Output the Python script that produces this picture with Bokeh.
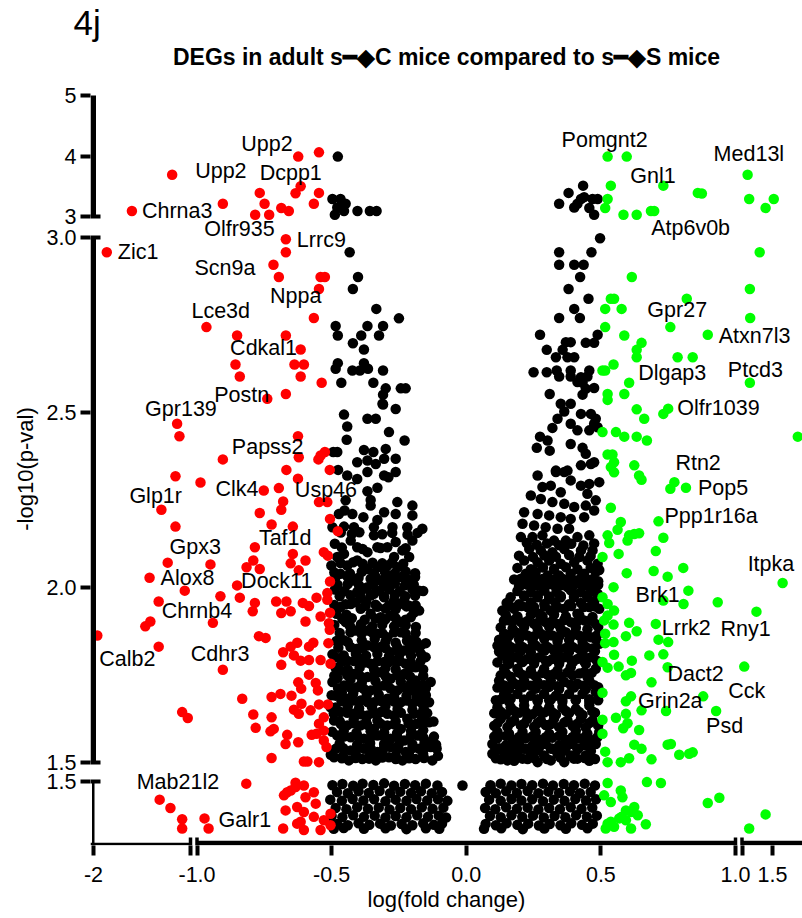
from bokeh.plotting import figure
from bokeh.models import Range1d, FixedTicker, Title
from bokeh.embed import file_html
from bokeh.resources import INLINE
from bokeh.core.properties import value

FONT = "Liberation Sans"

# ---------------- texts ----------------
panel_tag = "4j"
chart_title = "DEGs in adult s\u2501\u25c6C mice compared to s\u2501\u25c6S mice"
x_axis_title = "log(fold change)"
y_axis_title = "-log10(p-val)"

# ---------------- axis breaks / ticks (data units) ----------------
x_breaks = [(-2.0, -1.0), (-1.0, 1.0), (1.0, 2.0)]
y_breaks = [(1.3, 1.5), (1.5, 3.0), (3.0, 5.0)]
x_tick_values = [[-2.0, -1.0], [-1.0, -0.5, 0.0, 0.5, 1.0], [1.0, 1.5]]
x_tick_labels = [["-2", ""], ["-1.0", "-0.5", "0.0", "0.5", "1.0"], ["", "1.5"]]
y_tick_values = [[1.5], [1.5, 2.0, 2.5, 3.0], [3.0, 4.0, 5.0]]
y_tick_labels = [["1.5"], ["1.5", "2.0", "2.5", "3.0"], ["3", "4", "5"]]

# ---------------- data: (log fold change, -log10 p) ----------------
red_pts = [
    (-0.547, 4.06), (-0.624, 3.99), (-1.189, 3.69), (-0.615, 3.50), (-0.767, 3.39), (-0.634, 3.385),
    (-0.547, 3.39), (-0.904, 3.21), (-0.749, 3.21), (-0.566, 3.21), (-1.604, 3.09), (-0.687, 3.14),
    (-0.659, 3.09), (-0.784, 3.03), (-0.732, 3.03),
    (-1.863, 2.958), (-0.670, 2.995), (-0.670, 2.958), (-0.716, 2.922), (-0.696, 2.887), (-0.541, 2.887),
    (-0.525, 2.887), (-0.547, 2.853), (-0.566, 2.770), (-0.965, 2.744), (-0.851, 2.720), (-0.670, 2.720),
    (-0.615, 2.680), (-0.857, 2.637), (-0.638, 2.637), (-0.603, 2.637), (-0.841, 2.603), (-0.615, 2.603),
    (-0.537, 2.585), (-0.670, 2.553), (-0.739, 2.539),
    (-1.138, 2.468), (-1.114, 2.432), (-0.625, 2.432), (-0.904, 2.366), (-0.622, 2.372), (-0.541, 2.377),
    (-0.549, 2.366), (-0.525, 2.387), (-0.668, 2.336), (-0.507, 2.336), (-1.155, 2.318), (-0.987, 2.300),
    (-0.625, 2.311), (-0.752, 2.277), (-0.696, 2.284), (-0.547, 2.244), (-0.516, 2.244), (-0.680, 2.246),
    (-0.687, 2.222), (-1.300, 2.222), (-0.767, 2.213), (-0.506, 2.196), (-0.477, 2.161), (-0.723, 2.180),
    (-0.644, 2.174), (-1.155, 2.174), (-0.785, 2.115), (-0.529, 2.101), (-0.514, 2.091), (-0.644, 2.096),
    (-1.235, 2.071), (-0.950, 2.066), (-0.791, 2.077), (-0.816, 2.058), (-0.767, 2.053), (-0.652, 2.069),
    (-0.597, 2.077), (-0.622, 2.049), (-1.422, 2.028), (-1.059, 1.991), (-0.851, 2.006), (-0.841, 1.971),
    (-0.506, 2.017), (-0.913, 1.975), (-1.328, 1.960), (-0.785, 1.956), (-0.793, 1.932), (-0.706, 1.960),
    (-0.668, 1.960), (-0.687, 1.927), (-0.652, 1.932), (-0.607, 1.956), (-0.584, 1.947), (-0.556, 1.971),
    (-0.516, 1.984), (-0.516, 1.965), (-0.506, 1.928), (-0.541, 1.917), (-0.597, 1.903), (-0.510, 1.898),
    (-0.507, 1.879), (-0.941, 1.899), (-1.414, 1.903), (-1.466, 1.889), (-1.961, 1.863), (-1.328, 1.831),
    (-0.770, 1.861), (-0.745, 1.856), (-0.904, 1.765), (-0.680, 1.815), (-0.652, 1.831), (-0.628, 1.842),
    (-0.640, 1.806), (-0.584, 1.831), (-0.568, 1.842), (-0.512, 1.841), (-0.615, 1.791), (-0.584, 1.793),
    (-0.541, 1.793), (-0.504, 1.782), (-0.687, 1.779), (-0.584, 1.751), (-0.624, 1.729), (-0.613, 1.711),
    (-0.559, 1.727), (-0.551, 1.706), (-0.832, 1.682), (-0.723, 1.687), (-0.690, 1.696), (-0.649, 1.691),
    (-0.612, 1.668), (-0.547, 1.666), (-0.514, 1.666), (-0.640, 1.651), (-0.622, 1.639), (-0.578, 1.649),
    (-1.086, 1.644), (-1.028, 1.627), (-0.791, 1.637), (-0.723, 1.629), (-0.782, 1.599), (-0.727, 1.589),
    (-0.715, 1.596), (-0.529, 1.629), (-0.547, 1.611), (-0.529, 1.591), (-0.556, 1.582), (-0.665, 1.579),
    (-0.624, 1.558), (-0.574, 1.579), (-0.529, 1.563), (-0.519, 1.544), (-0.671, 1.553), (-0.723, 1.513),
    (-0.603, 1.503), (-0.590, 1.503), (-0.547, 1.501),
    (-0.817, 1.493), (-1.318, 1.441), (-1.207, 1.414), (-1.086, 1.377), (-1.086, 1.347), (-0.972, 1.380),
    (-0.957, 1.347), (-0.677, 1.455), (-0.665, 1.465), (-0.652, 1.471), (-0.634, 1.496), (-0.634, 1.482),
    (-0.671, 1.406), (-0.680, 1.347), (-0.628, 1.417), (-0.628, 1.363), (-0.603, 1.487), (-0.566, 1.465),
    (-0.597, 1.449), (-0.559, 1.428), (-0.603, 1.401), (-0.566, 1.385), (-0.615, 1.369), (-0.603, 1.342),
    (-0.529, 1.374), (-0.504, 1.358), (-0.541, 1.342), (-0.504, 1.395),
]

green_pts = [
    (0.525, 3.99), (0.596, 3.99), (1.092, 3.69), (0.537, 3.51), (0.732, 3.51), (0.860, 3.39), (0.875, 3.38),
    (1.118, 3.29), (1.521, 3.29), (1.387, 3.14), (0.525, 3.29), (0.516, 3.14), (0.584, 3.03), (0.633, 3.03),
    (0.686, 3.09), (0.698, 3.09),
    (1.290, 2.958), (0.615, 2.887), (1.129, 2.853), (0.537, 2.825), (0.549, 2.825), (0.819, 2.825),
    (0.516, 2.796), (0.577, 2.796), (1.134, 2.770), (0.516, 2.744), (0.758, 2.744), (0.587, 2.720),
    (0.897, 2.722), (0.651, 2.699), (0.633, 2.679), (0.633, 2.658), (0.785, 2.658), (0.841, 2.658),
    (0.506, 2.620), (0.516, 2.620), (0.547, 2.637), (0.605, 2.585), (1.129, 2.585), (0.525, 2.553),
    (0.525, 2.536), (0.587, 2.553), (0.633, 2.509), (0.661, 2.482), (0.732, 2.496), (0.750, 2.511),
    (0.506, 2.444), (0.556, 2.444), (0.587, 2.431), (0.633, 2.431), (0.671, 2.420), (1.915, 2.431),
    (0.525, 2.380), (0.543, 2.380), (0.549, 2.358), (0.624, 2.349), (0.537, 2.344), (0.549, 2.329),
    (0.642, 2.320), (0.651, 2.308), (0.773, 2.301), (0.758, 2.282), (0.816, 2.285), (0.537, 2.228),
    (0.574, 2.187), (0.562, 2.165), (0.714, 2.189), (0.525, 2.149), (0.531, 2.127), (0.605, 2.149),
    (0.624, 2.153), (0.642, 2.155), (0.599, 2.134), (0.732, 2.142), (0.506, 2.087), (0.566, 2.096),
    (0.704, 2.104), (0.596, 2.041), (0.696, 2.047), (0.748, 2.031), (0.806, 2.056), (1.666, 2.013),
    (0.547, 2.001), (0.506, 1.972), (0.525, 1.953), (0.549, 1.934), (0.525, 1.920), (0.512, 1.906),
    (0.825, 1.991), (0.807, 1.953), (0.732, 1.963), (0.934, 1.958), (1.237, 1.931), (0.547, 1.894),
    (0.605, 1.899), (0.633, 1.875), (0.593, 1.861), (0.516, 1.868), (0.704, 1.896), (0.714, 1.851),
    (0.750, 1.844), (0.516, 1.841), (0.547, 1.844), (0.549, 1.808), (0.506, 1.787), (0.525, 1.771),
    (0.566, 1.774), (0.615, 1.791), (0.680, 1.806), (0.732, 1.809), (0.748, 1.772), (0.612, 1.756),
    (0.593, 1.749), (1.037, 1.774), (0.688, 1.729), (0.506, 1.699), (0.593, 1.675), (0.612, 1.689),
    (0.880, 1.689), (0.651, 1.649), (0.742, 1.647), (0.928, 1.647), (0.506, 1.622), (0.556, 1.628),
    (0.593, 1.639), (0.599, 1.612), (0.583, 1.598), (0.506, 1.582), (0.642, 1.593), (0.624, 1.551),
    (0.651, 1.539), (0.748, 1.551), (0.760, 1.553), (0.791, 1.522), (0.828, 1.525), (0.841, 1.529),
    (0.516, 1.531), (0.525, 1.501), (0.574, 1.501), (0.605, 1.512), (0.688, 1.509),
    (0.525, 1.495), (0.671, 1.498), (0.723, 1.495), (0.574, 1.471), (0.580, 1.449), (0.537, 1.433),
    (0.512, 1.455), (0.624, 1.417), (0.612, 1.401), (0.637, 1.390), (0.593, 1.406), (0.568, 1.380),
    (0.537, 1.369), (0.518, 1.347), (0.612, 1.347), (0.667, 1.361), (0.593, 1.374), (0.897, 1.430),
    (0.940, 1.447), (1.387, 1.393), (1.118, 1.347), (0.549, 1.353), (0.525, 1.363), (0.577, 1.385),
]

black_top = [
    (-0.477, 3.99), (-0.497, 3.29), (-0.467, 3.29), (-0.448, 3.21), (-0.479, 3.15), (-0.488, 3.03),
    (-0.454, 3.09), (-0.404, 3.09), (-0.358, 3.09), (-0.333, 3.09),
    (0.434, 3.51), (0.380, 3.39), (0.345, 3.21), (0.401, 3.15), (0.426, 3.29), (0.438, 3.32),
    (0.469, 3.29), (0.488, 3.29), (0.457, 3.14), (0.475, 3.03), (0.413, 3.21),
]

black_left_upper = [
    (-0.433, 2.958), (-0.402, 2.887), (-0.421, 2.853), (-0.334, 2.796), (-0.250, 2.769), (-0.485, 2.747),
    (-0.367, 2.747), (-0.309, 2.747), (-0.477, 2.720), (-0.390, 2.720), (-0.324, 2.720), (-0.421, 2.698),
    (-0.380, 2.680), (-0.477, 2.641), (-0.485, 2.625), (-0.423, 2.620), (-0.395, 2.620), (-0.380, 2.641),
    (-0.365, 2.625), (-0.309, 2.620), (-0.464, 2.585), (-0.345, 2.585), (-0.299, 2.569), (-0.243, 2.569),
    (-0.225, 2.569), (-0.309, 2.551), (-0.311, 2.525), (-0.262, 2.510),
    (-0.454, 2.494), (-0.442, 2.460), (-0.444, 2.422), (-0.367, 2.482), (-0.336, 2.482), (-0.309, 2.523),
    (-0.287, 2.444), (-0.229, 2.420), (-0.380, 2.393), (-0.345, 2.387), (-0.494, 2.387), (-0.479, 2.387),
    (-0.299, 2.396), (-0.405, 2.358), (-0.367, 2.363), (-0.305, 2.368), (-0.262, 2.368), (-0.476, 2.336),
    (-0.442, 2.320), (-0.367, 2.330), (-0.336, 2.353), (-0.405, 2.310), (-0.305, 2.320), (-0.262, 2.330),
    (-0.289, 2.315), (-0.330, 2.285), (-0.367, 2.275), (-0.355, 2.250), (-0.448, 2.249), (-0.355, 2.234),
    (-0.256, 2.244), (-0.200, 2.234),
]

black_left_dense = [
    (-0.452, 2.220), (-0.473, 2.210), (-0.423, 2.210), (-0.382, 2.201), (-0.305, 2.215), (-0.330, 2.193),
    (-0.262, 2.210), (-0.200, 2.206), (-0.497, 2.172), (-0.454, 2.174), (-0.417, 2.172), (-0.343, 2.172),
    (-0.274, 2.172), (-0.219, 2.172), (-0.163, 2.168), (-0.488, 2.125), (-0.429, 2.134), (-0.343, 2.149),
    (-0.405, 2.115), (-0.367, 2.101), (-0.330, 2.115), (-0.293, 2.115), (-0.268, 2.087), (-0.237, 2.106),
    (-0.200, 2.134), (-0.479, 2.087), (-0.454, 2.096), (-0.501, 2.063), (-0.442, 2.063), (-0.405, 2.077),
    (-0.367, 2.053), (-0.330, 2.058), (-0.293, 2.063), (-0.256, 2.058), (-0.212, 2.087), (-0.467, 2.039),
    (-0.417, 2.020), (-0.355, 2.025), (-0.318, 2.020), (-0.281, 2.020), (-0.243, 2.030), (-0.206, 2.020),
    (-0.175, 1.991), (-0.405, 1.987), (-0.367, 2.001), (-0.343, 1.982), (-0.305, 1.972), (-0.268, 1.963),
    (-0.231, 1.963), (-0.188, 1.949), (-0.175, 1.934), (-0.467, 1.944), (-0.429, 1.953), (-0.392, 1.939),
    (-0.355, 1.925), (-0.318, 1.915), (-0.281, 1.920), (-0.243, 1.901), (-0.206, 1.915), (-0.448, 1.901),
    (-0.411, 1.877), (-0.367, 1.877), (-0.330, 1.868), (-0.293, 1.858), (-0.243, 1.872), (-0.206, 1.849),
    (-0.169, 1.834), (-0.454, 1.849), (-0.405, 1.825), (-0.367, 1.834), (-0.318, 1.830), (-0.281, 1.815),
    (-0.231, 1.820), (-0.151, 1.801), (-0.485, 1.801), (-0.442, 1.791), (-0.392, 1.796), (-0.355, 1.782),
    (-0.305, 1.787), (-0.268, 1.791), (-0.225, 1.782), (-0.188, 1.772), (-0.467, 1.763), (-0.417, 1.753),
    (-0.367, 1.744), (-0.318, 1.758), (-0.281, 1.739), (-0.231, 1.753), (-0.188, 1.734), (-0.132, 1.730),
    (-0.497, 1.730), (-0.454, 1.720), (-0.405, 1.715), (-0.355, 1.706), (-0.305, 1.720), (-0.256, 1.706),
    (-0.206, 1.706), (-0.169, 1.696), (-0.485, 1.691), (-0.442, 1.682), (-0.392, 1.677), (-0.343, 1.672),
    (-0.293, 1.682), (-0.243, 1.672), (-0.200, 1.668), (-0.138, 1.672), (-0.504, 1.658), (-0.467, 1.644),
    (-0.417, 1.639), (-0.367, 1.634), (-0.318, 1.644), (-0.268, 1.634), (-0.219, 1.625), (-0.169, 1.639),
    (-0.491, 1.620), (-0.442, 1.606), (-0.392, 1.606), (-0.343, 1.596), (-0.293, 1.606), (-0.243, 1.596),
    (-0.188, 1.610), (-0.138, 1.615), (-0.479, 1.577), (-0.429, 1.572), (-0.380, 1.568), (-0.330, 1.577),
    (-0.281, 1.568), (-0.231, 1.563), (-0.181, 1.577), (-0.138, 1.558), (-0.485, 1.539), (-0.429, 1.534),
    (-0.380, 1.539), (-0.330, 1.530), (-0.281, 1.544), (-0.225, 1.530), (-0.175, 1.539), (-0.132, 1.544),
    (-0.491, 1.515), (-0.436, 1.506), (-0.386, 1.510), (-0.336, 1.506), (-0.287, 1.515), (-0.237, 1.506),
    (-0.188, 1.510), (-0.126, 1.506),
    (-0.466, 2.157), (-0.425, 2.153), (-0.397, 2.158), (-0.312, 2.152), (-0.275, 2.156), (-0.218, 2.151),
    (-0.181, 2.156), (-0.462, 2.114), (-0.385, 2.110), (-0.318, 2.113), (-0.262, 2.130), (-0.225, 2.112),
    (-0.490, 2.043), (-0.432, 2.040), (-0.388, 2.045), (-0.343, 2.041), (-0.302, 2.044), (-0.268, 2.039),
    (-0.225, 2.046), (-0.190, 2.041), (-0.488, 1.994), (-0.452, 1.990), (-0.380, 1.996), (-0.322, 1.991),
    (-0.287, 1.995), (-0.247, 1.989), (-0.200, 1.995), (-0.160, 1.990), (-0.482, 1.925), (-0.445, 1.922),
    (-0.410, 1.958), (-0.372, 1.960), (-0.330, 1.945), (-0.300, 1.940), (-0.262, 1.938), (-0.222, 1.946),
    (-0.195, 1.928), (-0.490, 1.893), (-0.432, 1.890), (-0.391, 1.895), (-0.349, 1.889), (-0.312, 1.894),
    (-0.268, 1.889), (-0.225, 1.892), (-0.187, 1.887), (-0.482, 1.847), (-0.440, 1.844), (-0.388, 1.849),
    (-0.340, 1.853), (-0.300, 1.846), (-0.262, 1.842), (-0.220, 1.848), (-0.185, 1.845), (-0.150, 1.841),
    (-0.497, 1.809), (-0.455, 1.806), (-0.410, 1.811), (-0.372, 1.805), (-0.330, 1.810), (-0.287, 1.804),
    (-0.248, 1.809), (-0.205, 1.805), (-0.168, 1.810), (-0.485, 1.770), (-0.440, 1.766), (-0.396, 1.771),
    (-0.342, 1.765), (-0.300, 1.770), (-0.262, 1.766), (-0.210, 1.771), (-0.160, 1.766), (-0.478, 1.741),
    (-0.430, 1.737), (-0.388, 1.728), (-0.337, 1.732), (-0.296, 1.726), (-0.243, 1.731), (-0.205, 1.727),
    (-0.160, 1.722), (-0.500, 1.692), (-0.462, 1.700), (-0.420, 1.697), (-0.370, 1.690), (-0.325, 1.694),
    (-0.268, 1.689), (-0.222, 1.690), (-0.185, 1.685), (-0.150, 1.692), (-0.485, 1.657), (-0.440, 1.660),
    (-0.398, 1.655), (-0.350, 1.658), (-0.300, 1.662), (-0.255, 1.653), (-0.200, 1.650), (-0.158, 1.655),
    (-0.470, 1.618), (-0.418, 1.622), (-0.372, 1.616), (-0.330, 1.620), (-0.262, 1.617), (-0.212, 1.612),
    (-0.165, 1.621), (-0.122, 1.617), (-0.498, 1.588), (-0.455, 1.590), (-0.408, 1.585), (-0.355, 1.589),
    (-0.305, 1.586), (-0.257, 1.584), (-0.205, 1.590), (-0.160, 1.592), (-0.470, 1.554), (-0.405, 1.551),
    (-0.357, 1.555), (-0.305, 1.553), (-0.252, 1.549), (-0.200, 1.552), (-0.155, 1.556), (-0.112, 1.551),
    (-0.503, 1.522), (-0.458, 1.519), (-0.410, 1.523), (-0.360, 1.518), (-0.312, 1.526), (-0.262, 1.520),
    (-0.212, 1.521), (-0.160, 1.524), (-0.105, 1.519),
    (-0.462, 1.512), (-0.411, 1.513), (-0.361, 1.511), (-0.312, 1.514), (-0.262, 1.510), (-0.212, 1.512),
    (-0.157, 1.513), (-0.457, 1.541), (-0.404, 1.543), (-0.355, 1.540), (-0.305, 1.542), (-0.253, 1.539),
    (-0.200, 1.541), (-0.153, 1.543), (-0.110, 1.540), (-0.454, 1.574), (-0.404, 1.576), (-0.355, 1.572),
    (-0.306, 1.575), (-0.256, 1.573), (-0.206, 1.576), (-0.159, 1.571), (-0.120, 1.574), (-0.466, 1.610),
    (-0.417, 1.612), (-0.368, 1.608), (-0.318, 1.611), (-0.268, 1.609), (-0.214, 1.611), (-0.163, 1.608),
    (-0.492, 1.640), (-0.442, 1.642), (-0.392, 1.638), (-0.343, 1.641), (-0.293, 1.639), (-0.243, 1.642),
    (-0.194, 1.639), (-0.145, 1.641), (-0.463, 1.675), (-0.417, 1.677), (-0.367, 1.673), (-0.318, 1.676),
    (-0.268, 1.674), (-0.222, 1.677), (-0.170, 1.673), (-0.476, 1.712), (-0.430, 1.714), (-0.380, 1.710),
    (-0.330, 1.713), (-0.281, 1.711), (-0.231, 1.714), (-0.188, 1.710), (-0.150, 1.712), (-0.490, 1.748),
    (-0.442, 1.750), (-0.392, 1.746), (-0.342, 1.749), (-0.300, 1.747), (-0.256, 1.750), (-0.209, 1.746),
    (-0.160, 1.748), (-0.463, 1.788), (-0.417, 1.790), (-0.374, 1.786), (-0.330, 1.789), (-0.287, 1.787),
    (-0.246, 1.790), (-0.206, 1.786), (-0.170, 1.789), (-0.475, 1.828), (-0.430, 1.830), (-0.386, 1.826),
    (-0.342, 1.829), (-0.300, 1.827), (-0.256, 1.830), (-0.212, 1.826), (-0.186, 1.828), (-0.470, 1.870),
    (-0.430, 1.872), (-0.389, 1.868), (-0.349, 1.871), (-0.311, 1.869), (-0.268, 1.872), (-0.225, 1.868),
    (-0.188, 1.870), (-0.460, 1.910), (-0.425, 1.912), (-0.377, 1.908), (-0.337, 1.911), (-0.300, 1.909),
    (-0.262, 1.912), (-0.225, 1.908), (-0.490, 1.950), (-0.448, 1.952), (-0.374, 1.948), (-0.337, 1.951),
    (-0.287, 1.949), (-0.250, 1.952), (-0.212, 1.948), (-0.470, 1.975), (-0.430, 1.978), (-0.392, 1.973),
    (-0.355, 1.977), (-0.305, 1.974), (-0.265, 1.979), (-0.226, 1.975), (-0.190, 1.977), (-0.485, 2.030),
    (-0.442, 2.032), (-0.400, 2.028), (-0.337, 2.031), (-0.300, 2.029), (-0.262, 2.032), (-0.225, 2.028),
    (-0.190, 2.030), (-0.467, 2.070), (-0.420, 2.072), (-0.385, 2.068), (-0.348, 2.071), (-0.312, 2.069),
    (-0.275, 2.072), (-0.234, 2.068), (-0.478, 2.008), (-0.440, 2.010), (-0.398, 2.006), (-0.345, 2.009),
    (-0.305, 2.007), (-0.265, 2.011), (-0.228, 2.006), (-0.195, 2.008),
]

black_right_upper = [
    (0.497, 2.998), (0.345, 2.958), (0.465, 2.958), (0.345, 2.922), (0.401, 2.922), (0.436, 2.922),
    (0.423, 2.887), (0.380, 2.853), (0.454, 2.825), (0.401, 2.796), (0.422, 2.770), (0.345, 2.770),
    (0.274, 2.722), (0.488, 2.722), (0.444, 2.699), (0.475, 2.699), (0.370, 2.701), (0.388, 2.701),
    (0.358, 2.679), (0.299, 2.679), (0.333, 2.658), (0.376, 2.658), (0.401, 2.658), (0.250, 2.615),
    (0.299, 2.615), (0.336, 2.620), (0.345, 2.603), (0.388, 2.620), (0.388, 2.603), (0.413, 2.587),
    (0.426, 2.601), (0.457, 2.620), (0.450, 2.603), (0.432, 2.585), (0.444, 2.568), (0.475, 2.570),
    (0.432, 2.551), (0.310, 2.553), (0.351, 2.525), (0.388, 2.525), (0.364, 2.503), (0.339, 2.482),
    (0.426, 2.496), (0.463, 2.496), (0.481, 2.482), (0.475, 2.468), (0.320, 2.456), (0.388, 2.468),
    (0.413, 2.449), (0.457, 2.449), (0.488, 2.458), (0.274, 2.431), (0.302, 2.420), (0.262, 2.399),
    (0.310, 2.391), (0.388, 2.410), (0.432, 2.399), (0.444, 2.382), (0.475, 2.358), (0.333, 2.334),
    (0.376, 2.334), (0.426, 2.349),
]

black_right_dense = [
    (0.463, 2.353), (0.265, 2.320), (0.333, 2.330), (0.364, 2.330), (0.388, 2.306), (0.426, 2.291),
    (0.457, 2.296), (0.494, 2.301), (0.283, 2.287), (0.314, 2.291), (0.351, 2.272), (0.450, 2.268),
    (0.481, 2.249), (0.240, 2.263), (0.277, 2.253), (0.320, 2.244), (0.364, 2.239), (0.401, 2.230),
    (0.444, 2.234), (0.475, 2.220), (0.215, 2.215), (0.265, 2.210), (0.308, 2.206), (0.351, 2.201),
    (0.388, 2.196), (0.438, 2.201), (0.209, 2.182), (0.252, 2.177), (0.295, 2.172), (0.339, 2.168),
    (0.382, 2.168), (0.203, 2.144), (0.246, 2.144), (0.283, 2.149), (0.326, 2.134), (0.370, 2.134),
    (0.413, 2.144), (0.457, 2.149), (0.234, 2.110), (0.277, 2.106), (0.320, 2.101), (0.364, 2.110),
    (0.426, 2.106), (0.469, 2.106), (0.215, 2.077), (0.265, 2.072), (0.308, 2.077), (0.351, 2.068),
    (0.401, 2.072), (0.450, 2.077), (0.488, 2.068), (0.221, 2.039), (0.258, 2.044), (0.302, 2.034),
    (0.345, 2.034), (0.388, 2.039), (0.438, 2.039), (0.481, 2.044), (0.203, 2.006), (0.246, 2.010),
    (0.283, 2.001), (0.326, 2.006), (0.376, 2.001), (0.426, 2.010), (0.475, 2.006), (0.165, 1.972),
    (0.215, 1.977), (0.265, 1.972), (0.308, 1.968), (0.351, 1.972), (0.401, 1.982), (0.450, 1.972),
    (0.488, 1.982), (0.134, 1.934), (0.178, 1.939), (0.227, 1.944), (0.271, 1.925), (0.314, 1.934),
    (0.364, 1.939), (0.413, 1.925), (0.457, 1.944), (0.494, 1.939), (0.159, 1.906), (0.203, 1.901),
    (0.252, 1.896), (0.295, 1.901), (0.339, 1.896), (0.388, 1.901), (0.438, 1.906), (0.481, 1.896),
    (0.141, 1.868), (0.184, 1.872), (0.227, 1.863), (0.277, 1.868), (0.320, 1.863), (0.370, 1.872),
    (0.419, 1.863), (0.463, 1.858), (0.116, 1.834), (0.165, 1.830), (0.209, 1.830), (0.258, 1.834),
    (0.302, 1.830), (0.345, 1.825), (0.395, 1.830), (0.444, 1.830), (0.494, 1.839), (0.134, 1.806),
    (0.178, 1.801), (0.227, 1.796), (0.271, 1.801), (0.320, 1.796), (0.364, 1.801), (0.413, 1.796),
    (0.463, 1.801), (0.141, 1.768), (0.190, 1.768), (0.240, 1.763), (0.289, 1.768), (0.339, 1.763),
    (0.388, 1.772), (0.438, 1.758), (0.481, 1.768), (0.122, 1.734), (0.172, 1.730), (0.215, 1.734),
    (0.265, 1.730), (0.314, 1.734), (0.364, 1.730), (0.413, 1.725), (0.457, 1.734), (0.141, 1.696),
    (0.190, 1.696), (0.240, 1.691), (0.289, 1.696), (0.333, 1.691), (0.382, 1.696), (0.432, 1.696),
    (0.481, 1.701), (0.116, 1.658), (0.165, 1.658), (0.215, 1.663), (0.265, 1.653), (0.308, 1.658),
    (0.357, 1.658), (0.407, 1.653), (0.457, 1.663), (0.128, 1.625), (0.178, 1.620), (0.227, 1.625),
    (0.277, 1.620), (0.326, 1.625), (0.376, 1.620), (0.426, 1.625), (0.469, 1.620), (0.116, 1.587),
    (0.159, 1.582), (0.209, 1.587), (0.258, 1.587), (0.308, 1.582), (0.357, 1.587), (0.407, 1.591),
    (0.450, 1.582), (0.494, 1.587), (0.097, 1.553), (0.147, 1.549), (0.196, 1.553), (0.246, 1.549),
    (0.295, 1.553), (0.345, 1.549), (0.395, 1.553), (0.438, 1.549), (0.481, 1.553), (0.097, 1.525),
    (0.141, 1.527), (0.190, 1.525), (0.240, 1.525), (0.289, 1.520), (0.339, 1.525), (0.388, 1.520),
    (0.444, 1.520), (0.153, 1.506), (0.265, 1.501), (0.364, 1.501),
    (0.225, 2.127), (0.262, 2.122), (0.300, 2.126), (0.345, 2.121), (0.390, 2.125), (0.435, 2.120),
    (0.475, 2.126), (0.196, 2.091), (0.248, 2.087), (0.290, 2.092), (0.333, 2.088), (0.382, 2.093),
    (0.420, 2.087), (0.462, 2.090), (0.190, 2.056), (0.240, 2.052), (0.285, 2.057), (0.326, 2.053),
    (0.370, 2.058), (0.413, 2.052), (0.462, 2.056), (0.494, 2.050), (0.178, 2.023), (0.225, 2.019),
    (0.265, 2.024), (0.320, 2.020), (0.357, 2.025), (0.407, 2.019), (0.450, 2.023), (0.490, 2.018),
    (0.190, 1.990), (0.240, 1.986), (0.290, 1.991), (0.335, 1.987), (0.388, 1.992), (0.425, 1.986),
    (0.465, 1.990), (0.150, 1.956), (0.196, 1.952), (0.240, 1.957), (0.290, 1.953), (0.330, 1.958),
    (0.382, 1.952), (0.426, 1.956), (0.475, 1.960), (0.147, 1.921), (0.190, 1.917), (0.240, 1.922),
    (0.283, 1.918), (0.326, 1.923), (0.370, 1.917), (0.420, 1.921), (0.469, 1.916), (0.128, 1.886),
    (0.172, 1.882), (0.215, 1.887), (0.265, 1.883), (0.308, 1.888), (0.351, 1.882), (0.407, 1.886),
    (0.450, 1.881), (0.490, 1.887), (0.122, 1.851), (0.150, 1.846), (0.196, 1.852), (0.246, 1.847),
    (0.290, 1.853), (0.339, 1.846), (0.382, 1.850), (0.432, 1.845), (0.481, 1.852), (0.122, 1.817),
    (0.159, 1.813), (0.203, 1.818), (0.240, 1.814), (0.290, 1.819), (0.339, 1.813), (0.382, 1.817),
    (0.432, 1.812), (0.478, 1.818), (0.116, 1.786), (0.159, 1.782), (0.209, 1.787), (0.252, 1.783),
    (0.302, 1.788), (0.345, 1.782), (0.395, 1.786), (0.444, 1.781), (0.490, 1.787), (0.128, 1.749),
    (0.165, 1.745), (0.209, 1.750), (0.258, 1.746), (0.302, 1.751), (0.351, 1.745), (0.395, 1.749),
    (0.450, 1.744), (0.116, 1.714), (0.159, 1.710), (0.209, 1.715), (0.258, 1.711), (0.308, 1.716),
    (0.345, 1.710), (0.400, 1.714), (0.444, 1.709), (0.490, 1.715), (0.110, 1.678), (0.159, 1.674),
    (0.215, 1.679), (0.265, 1.675), (0.314, 1.680), (0.357, 1.674), (0.407, 1.678), (0.457, 1.673),
    (0.104, 1.641), (0.147, 1.637), (0.196, 1.642), (0.246, 1.638), (0.289, 1.643), (0.333, 1.637),
    (0.382, 1.641), (0.432, 1.636), (0.478, 1.642), (0.104, 1.605), (0.153, 1.601), (0.203, 1.606),
    (0.252, 1.602), (0.295, 1.607), (0.345, 1.601), (0.395, 1.605), (0.444, 1.600), (0.490, 1.606),
    (0.116, 1.569), (0.172, 1.565), (0.221, 1.570), (0.271, 1.566), (0.320, 1.571), (0.370, 1.565),
    (0.420, 1.569), (0.463, 1.564), (0.116, 1.538), (0.165, 1.534), (0.215, 1.539), (0.265, 1.535),
    (0.314, 1.540), (0.364, 1.534), (0.413, 1.538), (0.463, 1.533), (0.128, 1.509), (0.178, 1.505),
    (0.228, 1.510), (0.314, 1.506), (0.413, 1.511), (0.457, 1.505),
    (0.110, 1.512), (0.165, 1.514), (0.209, 1.511), (0.252, 1.513), (0.300, 1.510), (0.350, 1.514),
    (0.400, 1.511), (0.440, 1.513), (0.478, 1.510), (0.122, 1.541), (0.172, 1.543), (0.221, 1.540),
    (0.270, 1.542), (0.320, 1.539), (0.370, 1.543), (0.416, 1.540), (0.460, 1.542), (0.104, 1.574),
    (0.147, 1.576), (0.196, 1.573), (0.246, 1.575), (0.295, 1.572), (0.345, 1.576), (0.395, 1.573),
    (0.444, 1.575), (0.487, 1.572), (0.116, 1.612), (0.165, 1.614), (0.215, 1.611), (0.265, 1.613),
    (0.314, 1.610), (0.364, 1.614), (0.413, 1.611), (0.457, 1.613), (0.128, 1.645), (0.178, 1.647),
    (0.221, 1.644), (0.271, 1.646), (0.320, 1.643), (0.370, 1.647), (0.420, 1.644), (0.468, 1.646),
    (0.128, 1.680), (0.165, 1.682), (0.215, 1.679), (0.265, 1.681), (0.308, 1.678), (0.357, 1.682),
    (0.407, 1.679), (0.457, 1.681), (0.490, 1.678), (0.141, 1.720), (0.190, 1.722), (0.240, 1.719),
    (0.289, 1.721), (0.339, 1.718), (0.388, 1.722), (0.435, 1.719), (0.475, 1.721), (0.147, 1.755),
    (0.196, 1.757), (0.240, 1.754), (0.283, 1.756), (0.326, 1.753), (0.376, 1.757), (0.420, 1.754),
    (0.466, 1.756), (0.153, 1.790), (0.203, 1.792), (0.252, 1.789), (0.295, 1.791), (0.345, 1.788),
    (0.390, 1.792), (0.438, 1.789), (0.485, 1.791), (0.141, 1.825), (0.190, 1.827), (0.234, 1.824),
    (0.280, 1.826), (0.323, 1.823), (0.370, 1.827), (0.420, 1.824), (0.469, 1.826), (0.159, 1.862),
    (0.203, 1.864), (0.252, 1.861), (0.298, 1.863), (0.345, 1.860), (0.394, 1.864), (0.440, 1.861),
    (0.485, 1.863), (0.140, 1.905), (0.178, 1.907), (0.227, 1.904), (0.274, 1.906), (0.318, 1.903),
    (0.364, 1.907), (0.413, 1.904), (0.460, 1.906), (0.165, 1.945), (0.205, 1.947), (0.252, 1.944),
    (0.292, 1.946), (0.340, 1.943), (0.390, 1.947), (0.436, 1.944), (0.478, 1.946), (0.215, 1.975),
    (0.265, 1.977), (0.308, 1.974), (0.351, 1.976), (0.400, 1.973), (0.450, 1.977), (0.488, 1.974),
    (0.203, 2.025), (0.240, 2.027), (0.283, 2.024), (0.333, 2.026), (0.382, 2.023), (0.426, 2.027),
    (0.470, 2.024), (0.196, 2.004), (0.228, 2.008), (0.265, 2.005), (0.305, 2.009), (0.351, 2.006),
    (0.400, 2.008), (0.448, 2.005), (0.490, 2.008),
]

black_bottom = [
    (-0.497, 1.488), (-0.460, 1.492), (-0.420, 1.486), (-0.385, 1.493), (-0.345, 1.489), (-0.305, 1.494),
    (-0.268, 1.486), (-0.228, 1.492), (-0.190, 1.488), (-0.150, 1.493), (-0.107, 1.487), (-0.014, 1.487),
    (-0.480, 1.466), (-0.440, 1.462), (-0.400, 1.468), (-0.362, 1.463), (-0.322, 1.469), (-0.283, 1.462),
    (-0.245, 1.467), (-0.205, 1.463), (-0.168, 1.468), (-0.128, 1.462), (-0.090, 1.466),
    (-0.505, 1.441), (-0.462, 1.437), (-0.422, 1.443), (-0.382, 1.438), (-0.342, 1.442), (-0.300, 1.436),
    (-0.262, 1.441), (-0.222, 1.437), (-0.185, 1.443), (-0.145, 1.438), (-0.105, 1.442), (-0.070, 1.437),
    (-0.485, 1.414), (-0.445, 1.410), (-0.405, 1.416), (-0.365, 1.411), (-0.325, 1.415), (-0.285, 1.409),
    (-0.245, 1.414), (-0.205, 1.410), (-0.165, 1.416), (-0.125, 1.411), (-0.085, 1.415),
    (-0.500, 1.388), (-0.460, 1.384), (-0.420, 1.390), (-0.380, 1.385), (-0.340, 1.389), (-0.300, 1.383),
    (-0.262, 1.388), (-0.222, 1.384), (-0.182, 1.390), (-0.142, 1.385), (-0.102, 1.389), (-0.075, 1.383),
    (-0.480, 1.362), (-0.440, 1.358), (-0.400, 1.364), (-0.360, 1.359), (-0.320, 1.363), (-0.280, 1.357),
    (-0.240, 1.362), (-0.200, 1.358), (-0.160, 1.364), (-0.120, 1.359), (-0.090, 1.363),
    (-0.492, 1.346), (-0.455, 1.349), (-0.380, 1.346), (-0.300, 1.348), (-0.222, 1.345), (-0.150, 1.348),
    (-0.100, 1.346),
    (0.090, 1.488), (0.128, 1.493), (0.168, 1.487), (0.205, 1.492), (0.245, 1.488), (0.285, 1.493),
    (0.322, 1.487), (0.362, 1.492), (0.400, 1.488), (0.440, 1.493), (0.478, 1.487), (0.091, 1.478),
    (0.072, 1.466), (0.110, 1.462), (0.148, 1.468), (0.188, 1.463), (0.228, 1.469), (0.268, 1.462),
    (0.305, 1.467), (0.345, 1.463), (0.385, 1.468), (0.422, 1.462), (0.462, 1.466),
    (0.085, 1.441), (0.128, 1.437), (0.168, 1.443), (0.205, 1.438), (0.245, 1.442), (0.285, 1.436),
    (0.325, 1.441), (0.365, 1.437), (0.405, 1.443), (0.445, 1.438), (0.482, 1.442),
    (0.070, 1.414), (0.108, 1.410), (0.148, 1.416), (0.188, 1.411), (0.228, 1.415), (0.268, 1.409),
    (0.308, 1.414), (0.348, 1.410), (0.388, 1.416), (0.428, 1.411), (0.468, 1.415),
    (0.088, 1.388), (0.128, 1.384), (0.168, 1.390), (0.208, 1.385), (0.248, 1.389), (0.288, 1.383),
    (0.328, 1.388), (0.368, 1.384), (0.408, 1.390), (0.448, 1.385), (0.485, 1.389),
    (0.072, 1.362), (0.110, 1.358), (0.150, 1.364), (0.190, 1.359), (0.230, 1.363), (0.270, 1.357),
    (0.310, 1.362), (0.350, 1.358), (0.390, 1.364), (0.430, 1.359), (0.470, 1.363),
    (0.066, 1.346), (0.130, 1.348), (0.210, 1.345), (0.290, 1.347), (0.370, 1.346), (0.450, 1.348),
]

# labelled genes: (name, log fold change, -log10 p)
gene_labels = [
    ("Upp2", -0.624, 3.99), ("Upp2", -1.189, 3.69), ("Dcpp1", -0.615, 3.50), ("Chrna3", -1.604, 3.09),
    ("Olfr935", -0.784, 3.03), ("Lrrc9", -0.670, 2.995), ("Zic1", -1.863, 2.958), ("Scn9a", -0.716, 2.922),
    ("Nppa", -0.547, 2.853), ("Lce3d", -0.965, 2.744), ("Cdkal1", -0.851, 2.720), ("Postn", -0.739, 2.539),
    ("Gpr139", -1.138, 2.468), ("Papss2", -0.904, 2.366), ("Clk4", -0.987, 2.300), ("Usp46", -0.696, 2.284),
    ("Glp1r", -1.300, 2.222), ("Taf1d", -0.785, 2.115), ("Gpx3", -1.155, 2.174), ("Alox8", -1.422, 2.028),
    ("Dock11", -0.851, 2.006), ("Chrnb4", -1.328, 1.960), ("Calb2", -1.961, 1.863), ("Cdhr3", -0.904, 1.765),
    ("Mab21l2", -1.318, 1.441), ("Galr1", -0.957, 1.347),
    ("Pomgnt2", 0.525, 3.99), ("Med13l", 1.092, 3.69), ("Gnl1", 0.732, 3.51), ("Atp6v0b", 0.698, 3.09),
    ("Gpr27", 0.758, 2.744), ("Atxn7l3", 0.897, 2.722), ("Dlgap3", 0.605, 2.585), ("Ptcd3", 1.129, 2.585),
    ("Olfr1039", 0.750, 2.511), ("Rtn2", 0.773, 2.301), ("Pop5", 0.816, 2.285), ("Ppp1r16a", 0.714, 2.189),
    ("Itpka", 1.666, 2.013), ("Brk1", 0.807, 1.953), ("Lrrk2", 0.704, 1.896), ("Rny1", 1.237, 1.931),
    ("Dact2", 0.688, 1.729), ("Cck", 1.037, 1.774), ("Grin2a", 0.612, 1.689), ("Psd", 0.928, 1.647),
]

# ---------------- layout (pixels, not data) ----------------
FRAME_W, FRAME_H = 712, 753
x_targets = [(3.0, 100.0), (106.5, 645.0), (651.5, 712.5)]
y_targets = [(2.5, 64.0), (83.0, 608.0), (629.0, 750.0)]
label_offsets = [
    (-57, -13), (23, -4), (-41, -13), (10, 0), (-51, 14), (11, 1), (11, 0), (-79, 3), (-49, 7), (-15, -16),
    (-7, 12), (-53, -4), (-32, -15), (9, -12), (15, 6), (16, 2), (-32, -14), (4, -9), (-6, 20), (11, 0),
    (4, -4), (3, 9), (2, 24), (-32, -16), (-23, -18), (10, -9),
    (-46, -17), (-34, -21), (-33, -10), (-3, 17), (-23, -17), (11, 1), (9, -10), (-22, -13), (9, -1),
    (1, -19), (12, 0), (6, -5), (-35, -19), (-48, -9), (6, 4), (-36, 17), (16, -8), (-16, 24), (7, 5),
    (-10, 15),
]
PT_SIZE = 10.5
LABEL_SIZE = "21.5px"

p = figure(width=802, height=917, x_range=Range1d(0, FRAME_W), y_range=Range1d(0, FRAME_H),
           output_backend="svg", toolbar_location=None,
           min_border_left=90, min_border_right=0, min_border_top=92, min_border_bottom=72)
p.xgrid.visible = False
p.ygrid.visible = False
p.outline_line_color = None
p.background_fill_color = "white"
p.border_fill_color = "white"

# one sub-coordinate system per axis-break panel
subs = {}
for i in range(3):
    for j in range(3):
        subs[(i, j)] = p.subplot(
            x_source=Range1d(*x_breaks[i]), y_source=Range1d(*y_breaks[j]),
            x_target=Range1d(*x_targets[i]), y_target=Range1d(*y_targets[j]))


def panel_of(x, y):
    i = 0 if x < x_breaks[1][0] else (2 if x > x_breaks[1][1] else 1)
    j = 0 if y < y_breaks[1][0] else (2 if y > y_breaks[1][1] else 1)
    return i, j


def draw_points(points, color):
    groups = {}
    for x, y in points:
        groups.setdefault(panel_of(x, y), []).append((x, y))
    for key, pts in groups.items():
        xs = [a for a, _ in pts]
        ys = [b for _, b in pts]
        subs[key].scatter(x=xs, y=ys, marker="circle", size=PT_SIZE,
                          fill_color=color, line_color=None)


draw_points(black_top + black_left_upper + black_left_dense + black_right_upper
            + black_right_dense + black_bottom, "#000000")
draw_points(red_pts, "#ff0000")
draw_points(green_pts, "#00ff00")

# gene labels
lab_groups = {}
for (name, x, y), (dx, dy) in zip(gene_labels, label_offsets):
    lab_groups.setdefault(panel_of(x, y), []).append((name, x, y, dx, dy))
for key, items in lab_groups.items():
    subs[key].text(x=[it[1] for it in items], y=[it[2] for it in items],
                   text=[it[0] for it in items],
                   x_offset=[it[3] for it in items], y_offset=[it[4] for it in items],
                   text_font=value(FONT), text_font_size=LABEL_SIZE, text_color="black",
                   text_align="left", text_baseline="middle")


def to_parent(v, src, tgt):
    return tgt[0] + (v - src[0]) * (tgt[1] - tgt[0]) / (src[1] - src[0])


xt_pos, xt_over = [], {}
for i in range(3):
    for v, lab in zip(x_tick_values[i], x_tick_labels[i]):
        pos = round(to_parent(v, x_breaks[i], x_targets[i]), 3)
        xt_pos.append(pos)
        xt_over[pos] = lab
yt_pos, yt_over = [], {}
for j in range(3):
    for v, lab in zip(y_tick_values[j], y_tick_labels[j]):
        pos = round(to_parent(v, y_breaks[j], y_targets[j]), 3)
        yt_pos.append(pos)
        yt_over[pos] = lab

xa = p.xaxis[0]
ya = p.yaxis[0]
xa.ticker = FixedTicker(ticks=xt_pos)
xa.major_label_overrides = xt_over
ya.ticker = FixedTicker(ticks=yt_pos)
ya.major_label_overrides = yt_over
for ax in (xa, ya):
    ax.axis_line_color = None
    ax.major_tick_line_color = "black"
    ax.major_tick_line_width = 4
    ax.major_tick_out = 10
    ax.major_tick_in = 0
    ax.minor_tick_line_color = None
    ax.major_label_text_font = FONT
    ax.major_label_text_font_size = "21.5px"
    ax.major_label_text_color = "black"
    ax.axis_label_text_font = FONT
    ax.axis_label_text_font_size = "22px"
    ax.axis_label_text_font_style = "normal"
    ax.axis_label_text_color = "black"
xa.axis_label = x_axis_title
ya.axis_label = y_axis_title
xa.major_label_standoff = 11
ya.major_label_standoff = 4
xa.axis_label_standoff = 2
ya.axis_label_standoff = 6

# broken axis lines and break caps
for j, (lo, hi) in enumerate(y_targets):
    if j == 0:
        p.segment(x0=[2.75], y0=[0], x1=[2.75], y1=[hi], line_width=2.5, line_color="black")
    else:
        p.segment(x0=[2.75], y0=[lo], x1=[2.75], y1=[hi], line_width=5.5, line_color="black")
for i, (lo, hi) in enumerate(x_targets):
    if i == 0:
        p.segment(x0=[0], y0=[1.5], x1=[hi], y1=[1.5], line_width=2.5, line_color="black")
    else:
        p.segment(x0=[lo], y0=[2.5], x1=[min(hi, FRAME_W)], y1=[2.5], line_width=4.5, line_color="black")
cap_y = [y_targets[0][1], y_targets[1][0], y_targets[1][1], y_targets[2][0]]
p.segment(x0=[0] * 4, y0=cap_y, x1=[10] * 4, y1=cap_y, line_width=4, line_color="black")
cap_x = [x_targets[0][1], x_targets[1][0], x_targets[1][1], x_targets[2][0]]
p.segment(x0=cap_x, y0=[0] * 4, x1=cap_x, y1=[8] * 4, line_width=3.5, line_color="black")

# titles: panel tag outermost, bold title nearer the plot
p.title.text = panel_tag
p.title.align = "left"
p.title.offset = -17
p.title.text_font = FONT
p.title.text_font_size = "35px"
p.title.text_font_style = "normal"
p.title.text_color = "black"
p.title.standoff = -47
p.add_layout(Title(text=chart_title, align="center", text_font=FONT, text_font_size="23px",
                   text_font_style="bold", text_color="black", standoff=46), "above")

open("out.html", "w").write(file_html(p, INLINE))
